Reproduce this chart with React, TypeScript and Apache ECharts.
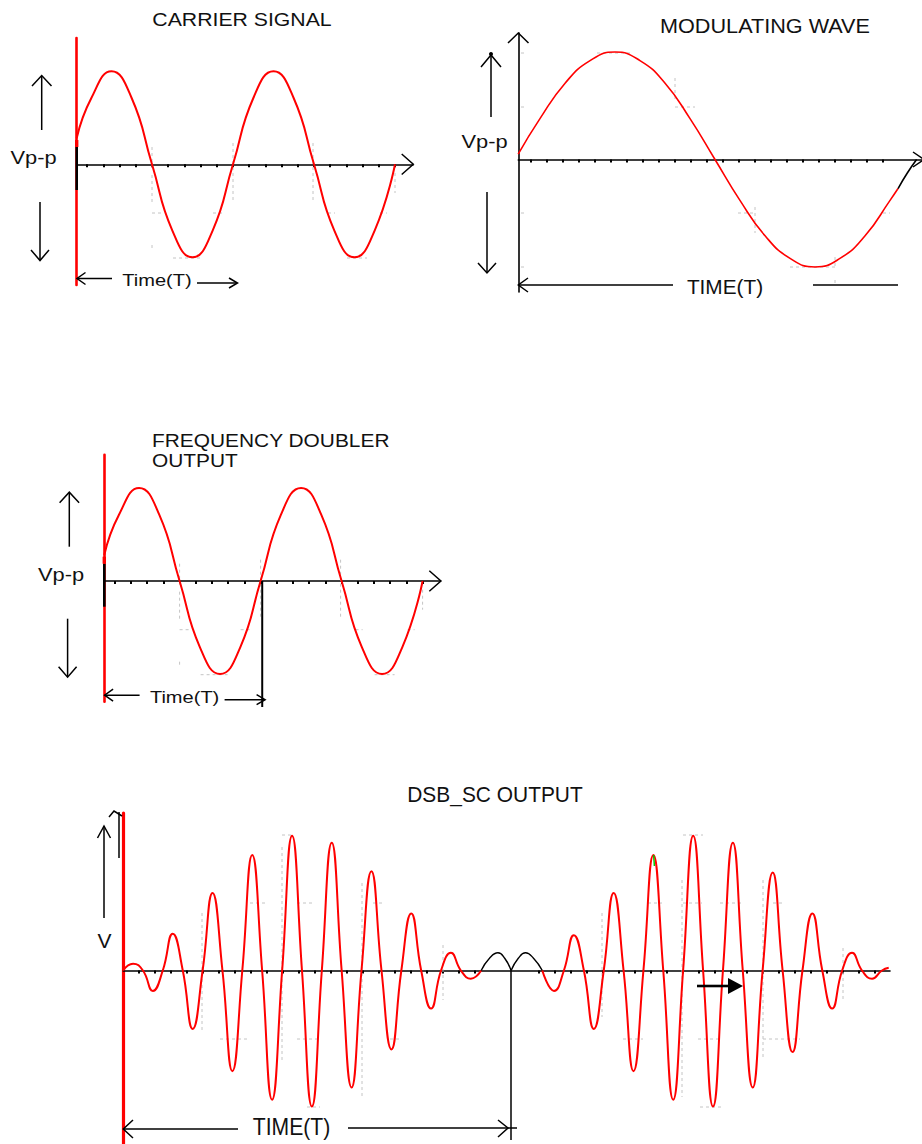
import React, { useEffect, useRef } from "react";
import * as echarts from "echarts";

// ---------------- DATA (time in axis-tick units, voltage in units of the peak) ----------------
// Carrier signal
const carrierTime = [-0.65, 0.25, 1.5, 2.75, 4, 5.25, 6.5, 7.75, 9, 10.25, 11.5, 12.75, 14, 15.25, 16.5, 17.75, 19];
const carrierVolts = [0.28, 0.71, 1, 0.71, 0, -0.71, -1, -0.71, 0, 0.71, 1, 0.71, 0, -0.71, -1, -0.71, 0];
const carrierTicks = [0, 1, 2, 3, 4, 5, 6, 7, 8, 9, 10, 11, 12, 13, 14, 15, 16, 17, 18, 19];

// Frequency doubler output
const doublerTime = [-0.65, 0.25, 1.5, 2.75, 4, 5.25, 6.5, 7.75, 9, 10.25, 11.5, 12.75, 14, 15.25, 16.5, 17.75, 19];
const doublerVolts = [0.28, 0.71, 1, 0.71, 0, -0.71, -1, -0.71, 0, 0.71, 1, 0.71, 0, -0.71, -1, -0.71, 0];
const doublerTicks = [0, 1, 2, 3, 4, 5, 6, 7, 8, 9, 10, 11, 12, 13, 14, 15, 16, 17, 18, 19];
const doublerMarkerTime = 9.1;

// Modulating wave
const modTime = [-0.8, 0.56, 2.13, 3.69, 5.25, 6.81, 8.38, 9.94, 11.5, 13.06, 14.63, 16.19, 17.75, 19.31, 20.88, 22.44, 22.94];
const modVolts = [0.05, 0.38, 0.71, 0.92, 1, 0.92, 0.71, 0.38, 0, -0.38, -0.71, -0.92, -1, -0.92, -0.71, -0.38, -0.27];
const modTailTime = [22.94, 23.5, 24.1];
const modTailVolts = [-0.27, -0.13, 0];
const modTicks = [0, 1, 2, 3, 4, 5, 6, 7, 8, 9, 10, 11, 12, 13, 14, 15, 16, 17, 18, 19, 20, 21, 22];

// DSB-SC output
const dsbLobe1Time = [-0.95, -0.33, 0.29, 0.91, 1.53, 2.15, 2.78, 3.4, 4.02, 4.64, 5.26, 5.88, 6.5, 7.12, 7.74, 8.36, 8.99, 9.61, 10.23, 10.85, 11.47, 12.09, 12.71, 13.33, 13.95, 14.57, 15.2, 15.82, 16.44, 17.06, 17.68, 18.3, 18.92, 19.54, 20.16, 20.78, 21.43];
const dsbLobe1Volts = [0, 0.05, 0, -0.15, 0, 0.27, 0, -0.43, 0, 0.57, 0, -0.74, 0, 0.85, 0, -0.95, 0, 0.99, 0, -1.0, 0, 0.94, 0, -0.86, 0, 0.73, 0, -0.58, 0, 0.42, 0, -0.28, 0, 0.13, 0, -0.06, 0];
const dsbArchATime = [21.43, 21.95, 22.48, 22.9, 23.3];
const dsbArchAVolts = [0, 0.09, 0.13, 0.09, 0];
const dsbArchBTime = [23.3, 23.75, 24.2, 24.7, 25.25];
const dsbArchBVolts = [0, 0.09, 0.13, 0.09, 0];
const dsbLobe2Time = [25.25, 25.98, 26.6, 27.22, 27.85, 28.47, 29.09, 29.71, 30.33, 30.95, 31.57, 32.19, 32.81, 33.43, 34.05, 34.68, 35.3, 35.92, 36.54, 37.16, 37.78, 38.4, 39.02, 39.65, 40.27, 40.89, 41.51, 42.13, 42.75, 43.37, 43.99, 44.61, 45.23, 45.86, 46.48, 46.9];
const dsbLobe2Volts = [0, -0.15, 0, 0.26, 0, -0.43, 0, 0.57, 0, -0.74, 0, 0.85, 0, -0.95, 0, 0.99, 0, -1.0, 0, 0.94, 0, -0.86, 0, 0.72, 0, -0.6, 0, 0.42, 0, -0.28, 0, 0.13, 0, -0.06, 0, 0.02];
const dsbTicks = [0, 1, 2, 3, 4, 5, 6, 7, 8, 9, 10, 11, 12, 13, 14, 15, 16, 17, 18, 19, 20, 21, 25, 26, 27, 28, 29, 30, 31, 32, 33, 34, 35, 36, 37, 38, 39, 40, 41, 42, 43, 44, 45, 46];

// Texts
const titleCarrier = "CARRIER SIGNAL";
const titleModulating = "MODULATING WAVE";
const titleDoubler = ["FREQUENCY DOUBLER", "OUTPUT"];
const titleDsb = "DSB_SC OUTPUT";
const labelVpp = "Vp-p";
const labelTimeLower = "Time(T)";
const labelTimeUpper = "TIME(T)";
const labelV = "V";

// ---------------- LAYOUT (pixels) ----------------
const FONT = "'Liberation Sans', Arial, sans-serif";
const RED = "#ff0000";
const INK = "#111111";
const FAINT = "#c4c4c4";

type Panel = { axisX: number; tick0X: number; tickPx: number; zeroY: number; ampPx: number; topY: number; bottomY: number; rightX: number };
const P1: Panel = { axisX: 76.7, tick0X: 87.2, tickPx: 16.2, zeroY: 164.3, ampPx: 93, topY: 38, bottomY: 285, rightX: 413 };
const D3 = { dx: 27.6, dy: 416.7 };
const P3: Panel = { ...P1, axisX: P1.axisX + D3.dx, tick0X: P1.tick0X + D3.dx, zeroY: P1.zeroY + D3.dy, topY: P1.topY + D3.dy, bottomY: P1.bottomY + D3.dy, rightX: P1.rightX + D3.dx };
const P2: Panel = { axisX: 518.3, tick0X: 531, tickPx: 16, zeroY: 159.5, ampPx: 107.5, topY: 33, bottomY: 292, rightX: 922 };
const P4: Panel = { axisX: 123.3, tick0X: 138.3, tickPx: 16, zeroY: 970.5, ampPx: 136, topY: 813, bottomY: 1144, rightX: 890 };

// faint leftovers of the background grid (pixel segments)
const faintCarrier = [
  [152, 147, 152, 168], [152, 175, 152, 203], [152, 213, 163, 213], [213, 213, 223, 213], [173, 258, 203, 258],
  [233, 143, 233, 203], [313, 143, 313, 203], [328, 213, 335, 213], [380, 213, 387, 213], [347, 258, 367, 258],
  [395, 173, 395, 193], [152, 245, 152, 249],
];
const faintMod = [
  [597, 53, 633, 53], [675, 78, 675, 100], [675, 107, 695, 107], [755, 207, 755, 233], [738, 213, 755, 213],
  [790, 267, 837, 267], [835, 257, 835, 267], [835, 280, 835, 285], [883, 213, 890, 213],
  [521, 53, 524, 53], [521, 107, 524, 107], [521, 213, 524, 213], [521, 267, 524, 267],
];
const faintDsb = [
  [202, 913, 202, 1030], [282, 847, 282, 1063], [362, 883, 362, 1097], [443, 945, 443, 1000],
  [602, 913, 602, 1017], [682, 880, 682, 1097], [763, 880, 763, 1057], [843, 948, 843, 1000],
  [250, 903, 267, 903], [297, 903, 313, 903], [373, 903, 382, 903],
  [220, 1039, 247, 1039], [297, 1039, 320, 1039], [390, 1039, 400, 1039], [307, 1107, 320, 1107],
  [648, 903, 662, 903], [683, 903, 702, 903], [720, 903, 743, 903], [773, 903, 783, 903],
  [623, 1039, 643, 1039], [698, 1039, 720, 1039], [763, 1039, 800, 1039],
  [683, 835, 703, 835], [282, 835, 292, 835], [700, 1107, 722, 1107],
];

const zip = (t: number[], v: number[]) => t.map((x, i) => [x, v[i]]);

const gridOf = (p: Panel) => ({ left: p.axisX, top: p.topY, width: p.rightX - p.axisX, height: p.bottomY - p.topY, containLabel: false });

const xAxisOf = (p: Panel, idx: number, ticks: number[]) => ({
  type: "value",
  gridIndex: idx,
  min: (p.axisX - p.tick0X) / p.tickPx,
  max: (p.rightX - p.tick0X) / p.tickPx,
  axisLine: { show: true, onZero: true, lineStyle: { color: "#000", width: 1.6 } },
  axisTick: { show: true, inside: false, length: 3, customValues: ticks, lineStyle: { color: "#000", width: 2 } },
  axisLabel: { show: false },
  splitLine: { show: false },
});

const yAxisOf = (p: Panel, idx: number, color: string, width: number) => ({
  type: "value",
  gridIndex: idx,
  min: -(p.bottomY - p.zeroY) / p.ampPx,
  max: (p.zeroY - p.topY) / p.ampPx,
  axisLine: { show: true, onZero: false, lineStyle: { color, width } },
  axisTick: { show: false },
  axisLabel: { show: false },
  splitLine: { show: false },
});

const wave = (idx: number, t: number[], v: number[], color: string, width: number) => ({
  type: "line",
  xAxisIndex: idx,
  yAxisIndex: idx,
  data: zip(t, v),
  smooth: 0.5,
  symbol: "none",
  showSymbol: false,
  silent: true,
  lineStyle: { color, width },
  z: 3,
});

const L = (x1: number, y1: number, x2: number, y2: number, w = 1.5, c = "#000") => ({
  type: "line", z: 20, silent: true, shape: { x1, y1, x2, y2 }, style: { stroke: c, lineWidth: w },
});
const F = (s: number[], ox = 0, oy = 0) => ({
  type: "line", z: 1, silent: true, shape: { x1: s[0] + ox, y1: s[1] + oy, x2: s[2] + ox, y2: s[3] + oy },
  style: { stroke: FAINT, lineWidth: 1, lineDash: [3, 3] },
});
const PL = (pts: number[][], w = 1.5, c = "#000") => ({
  type: "polyline", z: 20, silent: true, shape: { points: pts }, style: { stroke: c, lineWidth: w, fill: null },
});
const T = (text: string, x: number, y: number, size: number, sx: number, align = "center") => ({
  type: "text", z: 20, silent: true, x, y, scaleX: sx,
  style: { text, fontSize: size, fontFamily: FONT, fill: INK, align, verticalAlign: "middle", textAlign: align, textVerticalAlign: "middle" },
});

// decorations of the carrier-type panel, given relative to panel 1 and shifted
const sineDecor = (ox: number, oy: number) => {
  const s = (pts: number[][]) => pts.map(([x, y]) => [x + ox, y + oy]);
  return [
    ...faintCarrier.map((seg) => F(seg, ox, oy)),
    L(P1.axisX + ox, 147 + oy, P1.axisX + ox, 190 + oy, 2.6),
    L(P1.axisX + ox, 140 + oy, P1.axisX + ox, 147 + oy, 3.4, RED),
    L(41.7 + ox, 76 + oy, 41.7 + ox, 130 + oy),
    PL(s([[32, 86], [41.7, 75.5], [51.5, 86]])),
    L(40 + ox, 202 + oy, 40 + ox, 260 + oy),
    PL(s([[31, 250], [40, 260.5], [49, 250]])),
    PL(s([[401.7, 154], [413.3, 164.3], [401.7, 174.5]])),
    T(labelVpp, 33.5 + ox, 158 + oy, 17.5, 1.25),
    L(77 + ox, 278.5 + oy, 112 + ox, 278.5 + oy),
    PL(s([[85.5, 272.5], [77, 278.5], [85.5, 284.5]])),
    T(labelTimeLower, 157 + ox, 280 + oy, 17, 1.18),
    L(197 + ox, 283 + oy, 237 + ox, 283 + oy),
    PL(s([[229, 278], [237.5, 283], [229, 288]])),
  ];
};

export default function App() {
  const ref = useRef<HTMLDivElement>(null);
  useEffect(() => {
    document.body.style.margin = "0";
    if (!ref.current) return;
    const chart = echarts.init(ref.current, undefined, { renderer: "svg" });
    const markX = P3.tick0X + doublerMarkerTime * P3.tickPx;
    const graphic: any[] = [
      // panel 1
      T(titleCarrier, 242, 19.5, 18, 1.18),
      ...sineDecor(0, 0),
      // panel 3
      T(titleDoubler[0], 152, 440, 18.5, 1.13, "left"),
      T(titleDoubler[1], 152, 460, 18.5, 1.13, "left"),
      ...sineDecor(D3.dx, D3.dy),
      L(markX, P3.zeroY, markX, 707, 2),
      // panel 2
      ...faintMod.map((seg) => F(seg)),
      T(titleModulating, 765, 26, 19.5, 1.11),
      PL([[508, 43], [P2.axisX, 33], [528.5, 43]]),
      PL([[913, 152], [924, P2.zeroY], [913, 167]]),
      L(491, 56, 491, 117),
      PL([[481, 67], [491, 55], [501, 67]]),
      { type: "circle", z: 20, silent: true, shape: { cx: 491, cy: 54, r: 2 }, style: { fill: "#000" } },
      L(487, 192, 487, 272),
      PL([[478, 263], [487, 273], [496, 263]]),
      T(labelVpp, 484.5, 141.5, 17.5, 1.25),
      L(P2.axisX, 285, 673, 285),
      PL([[528, 278], [P2.axisX, 285], [528, 292]]),
      T(labelTimeUpper, 725, 287.5, 20, 1.04),
      L(813, 285, 898, 285),
      // panel 4
      ...faintDsb.map((seg) => F(seg)),
      T(titleDsb, 495, 794, 22.5, 0.93),
      PL([[109, 817], [114, 811], [122, 816]]),
      L(119, 812, 119, 858),
      L(104, 826, 104, 918),
      PL([[97.5, 838], [104, 826], [110.5, 838]]),
      T(labelV, 104.5, 940, 21, 1),
      L(P4.axisX, 1129, 238, 1129),
      PL([[133, 1120], [P4.axisX, 1129], [133, 1138]]),
      T(labelTimeUpper, 291.5, 1127, 23, 0.92),
      L(348, 1128, 517, 1128),
      PL([[498, 1120], [508, 1128], [498, 1137]]),
      L(511, P4.zeroY, 511, 1140),
      L(697, 986, 729, 986, 2.6),
      { type: "polygon", z: 20, silent: true, shape: { points: [[728, 978], [743, 986], [728, 994]] }, style: { fill: "#000" } },
      L(653.6, 855, 654.4, 866, 1.5, "#00cc00"),
    ];

    chart.setOption({
      animation: false,
      backgroundColor: "#ffffff",
      grid: [gridOf(P1), gridOf(P2), gridOf(P3), gridOf(P4)],
      xAxis: [xAxisOf(P1, 0, carrierTicks), xAxisOf(P2, 1, modTicks), xAxisOf(P3, 2, doublerTicks), xAxisOf(P4, 3, dsbTicks)],
      yAxis: [yAxisOf(P1, 0, RED, 2.6), yAxisOf(P2, 1, "#000", 1.6), yAxisOf(P3, 2, RED, 2.6), yAxisOf(P4, 3, RED, 3.2)],
      series: [
        wave(0, carrierTime, carrierVolts, RED, 2),
        wave(1, modTime, modVolts, RED, 1.6),
        wave(1, modTailTime, modTailVolts, "#000", 1.6),
        wave(2, doublerTime, doublerVolts, RED, 2),
        wave(3, dsbLobe1Time, dsbLobe1Volts, RED, 2),
        wave(3, dsbArchATime, dsbArchAVolts, "#000", 1.4),
        wave(3, dsbArchBTime, dsbArchBVolts, "#000", 1.4),
        wave(3, dsbLobe2Time, dsbLobe2Volts, RED, 2),
      ],
      graphic,
    });
    return () => chart.dispose();
  }, []);
  return <div ref={ref} style={{ width: 922, height: 1144 }} />;
}
